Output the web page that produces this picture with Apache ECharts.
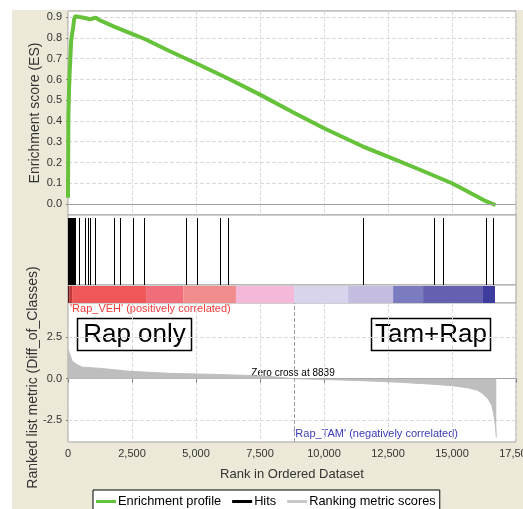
<!DOCTYPE html>
<html>
<head>
<meta charset="utf-8">
<script src="https://cdn.jsdelivr.net/npm/echarts@6/dist/echarts.min.js"></script>
<style>
html, body { margin: 0; padding: 0; background: #fff; }
#bg { position: absolute; left: 12px; top: 10px; width: 511px; height: 499px; background: #ECE9D8; }
#chart { position: absolute; left: 0; top: 0; width: 523px; height: 509px; }
</style>
</head>
<body>
<div id="bg"></div>
<div id="chart"></div>
<script>
// rank axis
const rank_max = 17500;
const rank_step = 2500;
const es_ticks = [0, 0.1, 0.2, 0.3, 0.4, 0.5, 0.6, 0.7, 0.8, 0.9];
const metric_ticks = [-2.5, 0, 2.5];

// running enrichment score [rank, ES]
const es_profile = [
    [0, 0.03], [15, 0.42], [40, 0.55], [60, 0.62], [90, 0.7], [120, 0.78],
    [160, 0.82], [200, 0.85], [240, 0.89], [280, 0.905], [500, 0.9],
    [700, 0.895], [860, 0.89], [1000, 0.895], [1100, 0.897], [1200, 0.888],
    [1800, 0.855], [2500, 0.82], [3000, 0.795], [4000, 0.735], [5000, 0.678],
    [6250, 0.605], [7500, 0.527], [8750, 0.445], [10000, 0.365],
    [11500, 0.278], [12500, 0.228], [13750, 0.165], [15000, 0.1],
    [16000, 0.035], [16300, 0.015], [16600, 0.0], [16700, -0.005],
];

// gene set members (rank positions)
const hit_ranks = [
    2, 18, 35, 52, 68, 85, 100, 118, 135, 150, 168, 185, 202, 220, 240, 262,
    430, 664, 781, 860, 1055, 1797, 2012, 2539, 2969, 4609, 5039, 5937, 6250,
    11523, 14297, 14648, 16328, 16602,
];

// ranked list metric [rank, score]
const metric_scores = [
    [0, 1.8], [30, 1.65], [90, 1.4], [150, 1.1], [270, 0.93], [550, 0.7],
    [1300, 0.62], [2400, 0.45], [4000, 0.32], [5500, 0.27], [7000, 0.2],
    [8000, 0.12], [8839, 0], [10300, -0.06], [12000, -0.15], [13000, -0.22],
    [14200, -0.33], [15000, -0.42], [15600, -0.55], [16000, -0.7],
    [16200, -0.9], [16400, -1.2], [16550, -1.6], [16640, -2.2],
    [16700, -2.9], [16730, -3.55],
];
const zero_cross = 8839;

// heat band under the hits
const band_start = [0, 60, 160, 3050, 4500, 6560, 8830, 10940, 12700, 13870, 16210];
const band_end = [60, 160, 3050, 4500, 6560, 8830, 10940, 12700, 13870, 16210, 16680];
const band_color = ["#5A1414", "#C03838", "#EF5858", "#EF6E7A", "#F18C8C", "#F4B8D8",
    "#D8D4EC", "#C4BDE0", "#7B7CC0", "#6660B0", "#3E3C9C"];

const font = "Liberation Sans";
const grid_line = { show: true, lineStyle: { color: "#D9D9D9", type: "dashed", width: 1 } };

function x_axis(idx, show) {
    return {
        type: "value",
        gridIndex: idx,
        min: 0,
        max: rank_max,
        interval: rank_step,
        axisLine: { show: show, lineStyle: { color: "#A0A0A0" } },
        axisTick: { show: show, length: 4, lineStyle: { color: "#808080" } },
        axisLabel: {
            show: show,
            margin: 6,
            color: "#333",
            fontSize: 11,
            fontFamily: font,
            alignMinLabel: "center",
            alignMaxLabel: "center",
            formatter: (v) => v.toLocaleString("en-US"),
        },
        splitLine: idx == 0 || idx == 3 ? grid_line : { show: false },
        name: show ? "Rank in Ordered Dataset" : "",
        nameLocation: "middle",
        nameGap: 26,
        nameMoveOverlap: false,
        nameTextStyle: { color: "#333", fontSize: 13, fontFamily: font },
    };
}

const grid_base = {
    left: 68, right: 7, show: true, backgroundColor: "#fff", borderColor: "#A0A0A0",
    containLabel: false, outerBoundsMode: "none",
};

let chart = echarts.init(document.getElementById("chart"));
chart.setOption({
    backgroundColor: "transparent",
    animation: false,
    grid: [
        Object.assign({ top: 11, height: 204 }, grid_base),
        Object.assign({ top: 215, height: 70 }, grid_base),
        Object.assign({ top: 285, height: 18 }, grid_base),
        Object.assign({ top: 303, height: 139 }, grid_base),
    ],
    xAxis: [x_axis(0, false), x_axis(1, false), x_axis(2, false), x_axis(3, true)],
    yAxis: [
        {
            type: "value",
            gridIndex: 0,
            min: -0.053,
            max: 0.93,
            axisLine: { show: false },
            axisTick: { show: true, length: 2, customValues: es_ticks, lineStyle: { color: "#808080" } },
            axisLabel: {
                customValues: es_ticks,
                margin: 6,
                color: "#333",
                fontSize: 11,
                fontFamily: font,
                formatter: (v) => v.toFixed(1),
            },
            splitLine: grid_line,
            name: "Enrichment score (ES)",
            nameLocation: "middle",
            nameGap: 26,
            nameMoveOverlap: false,
            nameTextStyle: { color: "#333", fontSize: 14, fontFamily: font },
        },
        { type: "value", gridIndex: 1, min: 0, max: 1, show: false },
        { type: "value", gridIndex: 2, min: 0, max: 1, show: false },
        {
            type: "value",
            gridIndex: 3,
            min: -3.83,
            max: 4.58,
            axisLine: { show: false },
            axisTick: { show: true, length: 2, customValues: metric_ticks, lineStyle: { color: "#808080" } },
            axisLabel: {
                customValues: metric_ticks,
                margin: 6,
                color: "#333",
                fontSize: 11,
                fontFamily: font,
                formatter: (v) => v.toFixed(1),
            },
            splitLine: grid_line,
            name: "Ranked list metric (Diff_of_Classes)",
            nameLocation: "middle",
            nameGap: 28,
            nameMoveOverlap: false,
            nameTextStyle: { color: "#333", fontSize: 14, fontFamily: font, padding: [0, 10, 0, 0] },
        },
    ],
    legend: {
        left: 93,
        top: 490,
        padding: [5, 4, 5, 3],
        itemGap: 11,
        itemWidth: 20,
        itemHeight: 3,
        backgroundColor: "#fff",
        borderColor: "#000",
        borderWidth: 1,
        borderRadius: 0,
        textStyle: { color: "#000", fontSize: 12.8, fontFamily: font, padding: [0, 0, 0, -3] },
        data: [
            { name: "Enrichment profile", icon: "rect", itemStyle: { color: "#66C23A" } },
            { name: "Hits", icon: "rect", itemStyle: { color: "#000" } },
            { name: "Ranking metric scores", icon: "rect", itemStyle: { color: "#C8C8C8" } },
        ],
    },
    series: [
        {
            name: "Ranking metric scores",
            type: "line",
            xAxisIndex: 3,
            yAxisIndex: 3,
            data: metric_scores,
            showSymbol: false,
            symbol: "none",
            lineStyle: { color: "#BEBEBE", width: 1 },
            areaStyle: { color: "#BEBEBE", opacity: 1 },
            markLine: {
                silent: true,
                symbol: "none",
                label: { show: false },
                lineStyle: { color: "#A0A0A0", type: "dashed", width: 1 },
                data: [{ xAxis: zero_cross }],
            },
        },
        {
            name: "Enrichment profile",
            type: "line",
            xAxisIndex: 0,
            yAxisIndex: 0,
            data: es_profile,
            showSymbol: false,
            symbol: "none",
            lineStyle: { color: "#66C23A", width: 4 },
            markLine: {
                silent: true,
                symbol: "none",
                label: { show: false },
                lineStyle: { color: "#A0A0A0", type: "solid", width: 1 },
                data: [{ yAxis: 0 }],
            },
            z: 3,
        },
        {
            name: "Hits",
            type: "custom",
            xAxisIndex: 1,
            yAxisIndex: 1,
            data: hit_ranks.map((r) => [r, 0]),
            renderItem(params, api) {
                let x = Math.round(api.coord([api.value(0), 0])[0]) + 0.5;
                let cs = params.coordSys;
                return {
                    type: "line",
                    shape: { x1: x, y1: cs.y + 3, x2: x, y2: cs.y + cs.height },
                    style: { stroke: "#000", lineWidth: 1 },
                };
            },
        },
        {
            name: "band",
            type: "custom",
            xAxisIndex: 2,
            yAxisIndex: 2,
            data: band_start.map((s, i) => [s, band_end[i], i]),
            renderItem(params, api) {
                let x0 = api.coord([api.value(0), 0])[0];
                let x1 = api.coord([api.value(1), 0])[0];
                let cs = params.coordSys;
                return {
                    type: "rect",
                    shape: { x: x0, y: cs.y + 1, width: x1 - x0, height: cs.height - 1 },
                    style: { fill: band_color[api.value(2)] },
                };
            },
        },
    ],
    graphic: [
        {
            type: "text", x: 70, y: 309,
            style: { text: "'Rap_VEH' (positively correlated)", fill: "#F03C3C", font: "11px " + font, verticalAlign: "middle" },
        },
        {
            type: "text", x: 458, y: 434,
            style: { text: "'Rap_TAM' (negatively correlated)", fill: "#3C3CB4", font: "11px " + font, align: "right", verticalAlign: "middle" },
        },
        {
            type: "text", x: 293, y: 373,
            style: { text: "Zero cross at " + zero_cross, fill: "#000", font: "10px " + font, align: "center", verticalAlign: "middle" },
        },
        {
            type: "rect", shape: { x: 77.5, y: 318.5, width: 114, height: 32 },
            style: { fill: "#fff", stroke: "#000", lineWidth: 1.5 },
        },
        {
            type: "text", x: 134.5, y: 335,
            style: { text: "Rap only", fill: "#000", font: "26px " + font, align: "center", verticalAlign: "middle" },
        },
        {
            type: "rect", shape: { x: 371.5, y: 318.5, width: 119, height: 32 },
            style: { fill: "#fff", stroke: "#000", lineWidth: 1.5 },
        },
        {
            type: "text", x: 431, y: 335,
            style: { text: "Tam+Rap", fill: "#000", font: "26px " + font, align: "center", verticalAlign: "middle" },
        },
    ],
});
</script>
</body>
</html>
